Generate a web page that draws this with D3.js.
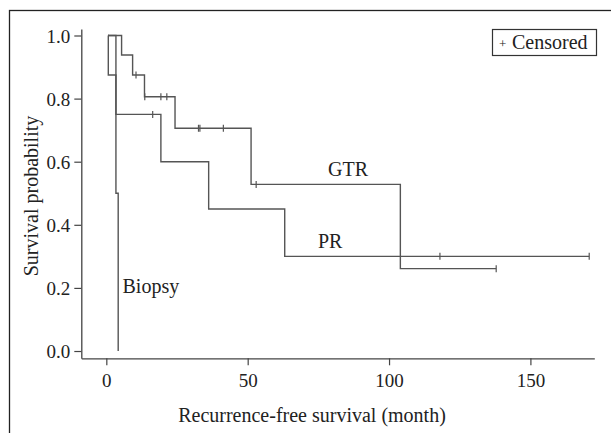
<!DOCTYPE html>
<html><head><meta charset="utf-8">
<script src="https://cdn.jsdelivr.net/npm/d3@7/dist/d3.min.js"></script>
<style>
html,body{margin:0;padding:0;background:#fff;}
svg{display:block;}
text{font-family:"Liberation Serif","DejaVu Serif",serif;fill:#222;}
</style></head>
<body><svg id="c" width="611" height="433"></svg>
<script>
// Kaplan-Meier step data (time in months, survival probability)
const gtrTimes = [0.6, 5.4, 9.3, 13.5, 24.3, 51.2, 104.0, 137.9];
const gtrSurv  = [1.0, 0.938, 0.875, 0.806, 0.706, 0.528, 0.261, 0.261];
const gtrCensored = [10.5, 13.6, 19.3, 21.4, 32.6, 33.1, 41.4, 53.0, 137.9];

const prTimes = [0.6, 0.7, 3.4, 19.3, 36.2, 63.1, 170.8];
const prSurv  = [1.0, 0.875, 0.75, 0.6, 0.45, 0.3, 0.3];
const prCensored = [16.4, 118.0, 170.8];

const bioTimes = [0.6, 3.4, 4.2];
const bioSurv  = [1.0, 0.5, 0.0];
const bioCensored = [];

const xTicks = [0, 50, 100, 150];
const yTicks = [0.0, 0.2, 0.4, 0.6, 0.8, 1.0];
const seriesNames = ["GTR", "PR", "Biopsy"];

const svg = d3.select("#c");
const lineColor = "#555";

// outer frame (figure border, cropped)
svg.append("rect").attr("x", 9.5).attr("y", 10.5).attr("width", 700).attr("height", 500)
  .attr("fill", "none").attr("stroke", "#222").attr("stroke-width", 1.3);

const x = d3.scaleLinear().domain([-8.85, 172.6]).range([81.3, 594.3]);
const y = d3.scaleLinear().domain([-0.0231, 1.0206]).range([358.3, 29]);

const xAxis = svg.append("g").attr("transform", "translate(0,358.3)")
  .call(d3.axisBottom(x).tickValues(xTicks).tickSize(7).tickSizeOuter(0).tickFormat(d3.format("d")));
const yAxis = svg.append("g").attr("transform", "translate(81.3,0)")
  .call(d3.axisLeft(y).tickValues(yTicks).tickSize(7).tickSizeOuter(0).tickFormat(d3.format(".1f")));
[xAxis, yAxis].forEach(g => {
  g.select(".domain").attr("stroke", "#444").attr("stroke-width", 1.3);
  g.selectAll(".tick line").attr("stroke", "#444").attr("stroke-width", 1.2);
  g.selectAll(".tick text").style("font-family", '"Liberation Serif",serif').style("font-size", "19px").attr("fill", "#222");
});
xAxis.selectAll(".tick text").attr("dy", "1.0em");
yAxis.selectAll(".tick text").attr("dx", "-0.05em").attr("dy", "0.36em");

const series = [
  {name: seriesNames[0], t: gtrTimes, s: gtrSurv, c: gtrCensored},
  {name: seriesNames[1], t: prTimes, s: prSurv, c: prCensored},
  {name: seriesNames[2], t: bioTimes, s: bioSurv, c: bioCensored}
];

const line = d3.line().x(d => x(d[0])).y(d => y(d[1])).curve(d3.curveStepAfter);

function survAt(sr, tt) {
  let v = sr.s[0];
  for (let i = 0; i < sr.t.length; i++) if (sr.t[i] <= tt) v = sr.s[i];
  return v;
}

series.forEach(sr => {
  const pts = sr.t.map((t, i) => [t, sr.s[i]]);
  svg.append("path").attr("d", line(pts)).attr("fill", "none")
    .attr("stroke", lineColor).attr("stroke-width", 1.4);
  sr.c.forEach(ct => {
    const v = survAt(sr, ct);
    svg.append("line").attr("x1", x(ct)).attr("x2", x(ct))
      .attr("y1", y(v) - 3.5).attr("y2", y(v) + 3.5)
      .attr("stroke", lineColor).attr("stroke-width", 1.2);
  });
});

// series labels
svg.append("text").attr("x", 328).attr("y", 176).style("font-size", "20px").text(seriesNames[0]);
svg.append("text").attr("x", 318).attr("y", 248).style("font-size", "20px").text(seriesNames[1]);
svg.append("text").attr("x", 122.5).attr("y", 293).style("font-size", "20px").text(seriesNames[2]);

// axis titles
svg.append("text").attr("x", 312).attr("y", 421.5).attr("text-anchor", "middle")
  .style("font-size", "20px").text("Recurrence-free survival (month)");
svg.append("text").attr("transform", "translate(38,196) rotate(-90)").attr("text-anchor", "middle")
  .style("font-size", "20px").text("Survival probability");

// legend
svg.append("rect").attr("x", 492.5).attr("y", 29.5).attr("width", 104).attr("height", 26)
  .attr("fill", "#fff").attr("stroke", "#333").attr("stroke-width", 1.2);
svg.append("text").attr("x", 499).attr("y", 48).style("font-size", "13px").text("+");
svg.append("text").attr("x", 512).attr("y", 49).style("font-size", "20px").text("Censored");
</script></body></html>
